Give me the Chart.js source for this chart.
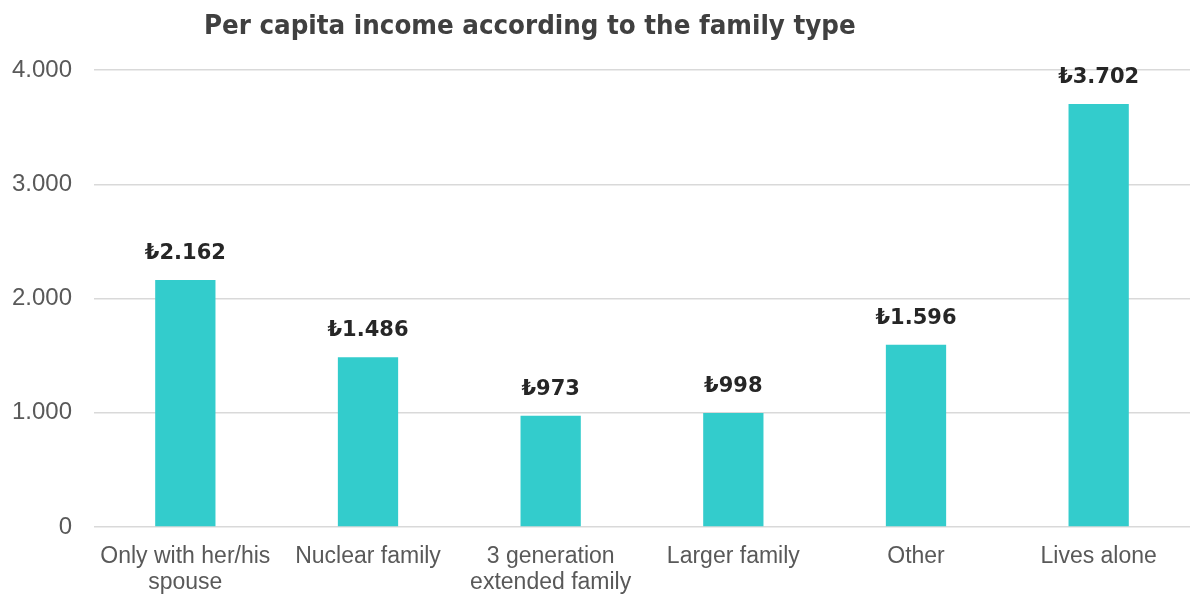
<!DOCTYPE html>
<html>
<head>
<meta charset="utf-8">
<script src="https://cdn.jsdelivr.net/npm/chart.js@4/dist/chart.umd.min.js"></script>
<style>
  html, body { margin: 0; padding: 0; background: #fff; }
  #wrap { width: 1192px; height: 595px; position: relative; }
</style>
</head>
<body>
<div id="wrap"><canvas id="incomeChart"></canvas></div>
<script>
// Per capita income by family type (TRY)
const familyTypes = [
  ['Only with her/his', 'spouse'],
  'Nuclear family',
  ['3 generation', 'extended family'],
  'Larger family',
  'Other',
  'Lives alone'
];
const incomeValues = [2162, 1486, 973, 998, 1596, 3702];
const yTicks = [0, 1000, 2000, 3000, 4000];
const chartTitle = 'Per capita income according to the family type';

function dotThousands(n) {
  return String(n).replace(/\B(?=(\d{3})+(?!\d))/g, '.');
}

// title drawn left of centre, like the original layout
const titlePlugin = {
  id: 'leftTitle',
  afterDraw(chart) {
    const ctx = chart.ctx;
    ctx.save();
    ctx.font = 'bold 27.4px "DejaVu Sans Condensed", "DejaVu Sans", sans-serif';
    ctx.fillStyle = '#404040';
    ctx.textAlign = 'left';
    ctx.textBaseline = 'middle';
    ctx.fillText(chartTitle, 204, 27);
    ctx.restore();
  }
};

// value labels above each bar
const valueLabels = {
  id: 'valueLabels',
  afterDatasetsDraw(chart) {
    const ctx = chart.ctx;
    const meta = chart.getDatasetMeta(0);
    ctx.save();
    ctx.font = 'bold 21px "DejaVu Sans", sans-serif';
    ctx.fillStyle = '#262626';
    ctx.textAlign = 'center';
    ctx.textBaseline = 'bottom';
    meta.data.forEach((bar, i) => {
      ctx.fillText('\u20BA' + dotThousands(incomeValues[i]), bar.x, bar.y - 16);
    });
    ctx.restore();
  }
};

new Chart(document.getElementById('incomeChart'), {
  type: 'bar',
  data: {
    labels: familyTypes,
    datasets: [{
      data: incomeValues,
      backgroundColor: '#33cccc',
      borderWidth: 0,
      barPercentage: 0.33,
      categoryPercentage: 1
    }]
  },
  options: {
    responsive: true,
    maintainAspectRatio: false,
    animation: false,
    layout: { padding: { top: 70, right: 2, left: 0, bottom: 0 } },
    plugins: {
      legend: { display: false },
      tooltip: { enabled: false }
    },
    scales: {
      y: {
        min: 0,
        max: 4000,
        afterBuildTicks(axis) {
          axis.ticks = yTicks.map(v => ({ value: v }));
        },
        afterFit(axis) { axis.width = 94; },
        border: { display: false },
        grid: { color: '#d9d9d9', lineWidth: 1.5, drawTicks: false },
        ticks: {
          padding: 22,
          color: '#595959',
          font: { size: 24, family: '"Liberation Sans", Arial, sans-serif' },
          callback: v => dotThousands(v)
        }
      },
      x: {
        afterFit(axis) { axis.height = 68; },
        border: { display: false },
        grid: { display: false },
        ticks: {
          padding: 9,
          color: '#595959',
          maxRotation: 0,
          autoSkip: false,
          font: { size: 23, family: '"Liberation Sans", Arial, sans-serif', lineHeight: 1.13 }
        }
      }
    }
  },
  plugins: [titlePlugin, valueLabels]
});
</script>
</body>
</html>
